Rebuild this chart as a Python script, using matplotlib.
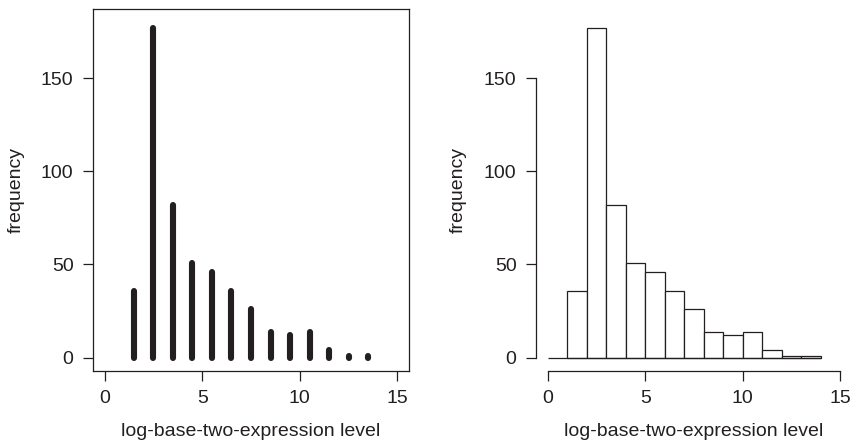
import matplotlib
matplotlib.use("Agg")
import matplotlib.pyplot as plt

# counts per expression-level bin (bins of width 1 from 1 to 14)
bin_left = [1, 2, 3, 4, 5, 6, 7, 8, 9, 10, 11, 12, 13]
bin_mid = [1.5, 2.5, 3.5, 4.5, 5.5, 6.5, 7.5, 8.5, 9.5, 10.5, 11.5, 12.5, 13.5]
counts = [36, 177, 82, 51, 46, 36, 26, 14, 12, 14, 4, 1, 1]

x_ticks = [0, 5, 10, 15]
y_ticks = [0, 50, 100, 150]
xlabel = "log-base-two-expression level"
ylabel = "frequency"

plt.rcParams['font.family'] = ['Liberation Sans', 'DejaVu Sans']
plt.rcParams['font.size'] = 14

ink = '#231f20'
fig = plt.figure(figsize=(8.53, 4.4), dpi=100)
ax_1 = fig.add_axes([93 / 853, 69 / 440, 316 / 853, 362 / 440])
ax_2 = fig.add_axes([536 / 853, 69 / 440, 316 / 853, 362 / 440])

xlim = (-0.6, 15.6)
ylim = (-7.2, 187.2)

# left: spikes (R type="h")
ax_1.vlines(bin_mid, 0, counts, colors=ink, linewidth=4.4, capstyle='round')
for side in ax_1.spines.values():
    side.set_linewidth(0.9)
    side.set_color(ink)

# right: histogram, R-style detached axes
ax_2.bar(bin_left, counts, width=1, align='edge', facecolor='white',
         edgecolor=ink, linewidth=0.9)
ax_2.hlines(0, 0, 14, colors=ink, linewidth=0.9)
ax_2.spines['top'].set_visible(False)
ax_2.spines['right'].set_visible(False)
ax_2.spines['left'].set_bounds(0, 150)
ax_2.spines['bottom'].set_bounds(0, 15)
for side in ('left', 'bottom'):
    ax_2.spines[side].set_linewidth(0.9)
    ax_2.spines[side].set_color(ink)

for ax, ylx in ((ax_1, -0.2415), (ax_2, -0.247)):
    ax.set_xlim(*xlim)
    ax.set_ylim(*ylim)
    ax.set_xticks(x_ticks)
    ax.set_yticks(y_ticks)
    ax.tick_params(length=7.5, width=0.9, color=ink, pad=6.5, labelcolor=ink)
    ax.set_xlabel(xlabel, va='center', color=ink)
    ax.xaxis.set_label_coords(0.5, -0.168)
    ax.set_ylabel(ylabel, va='center', color=ink)
    ax.yaxis.set_label_coords(ylx, 0.5)

fig.savefig("out.png", dpi=100)
